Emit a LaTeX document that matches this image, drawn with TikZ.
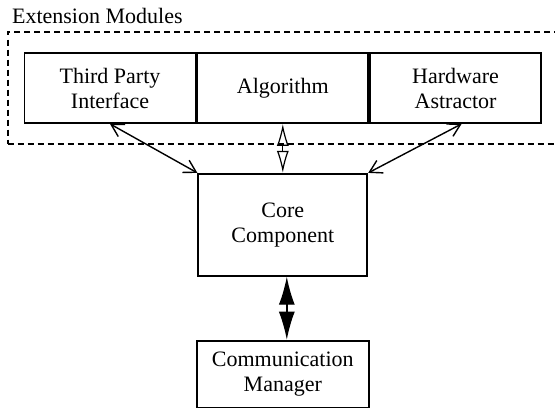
\documentclass[tikz,border=0pt]{standalone}
\usepackage{fontspec}
\setmainfont{Liberation Serif}
\usetikzlibrary{positioning,fit,arrows.meta}

\begin{document}
\begin{tikzpicture}[
        x=0.5pt, y=-0.5pt,
        font=\fontsize{11}{12.5}\selectfont,
        modulenode/.style={rectangle, draw, line width=0.9pt, minimum width=85.5pt, minimum height=35pt, inner sep=0pt, align=center},
        corenode/.style={rectangle, draw, line width=0.9pt, minimum width=84.5pt, minimum height=51pt, inner sep=0pt, align=center},
        commnode/.style={rectangle, draw, line width=0.9pt, minimum width=86pt, minimum height=33.5pt, inner sep=0pt, align=center},
        groupnode/.style={rectangle, draw, dash pattern=on 3pt off 2pt, line width=0.9pt, inner xsep=8pt, inner ysep=10pt},
        barbarrow/.style={line width=0.7pt, {Straight Barb[length=6pt,width=7pt]}-{Straight Barb[length=6pt,width=7pt]}},
        openarrow/.style={line width=0.6pt, {Latex[open,length=11pt,width=6pt]}-{Latex[open,length=11pt,width=6pt]}},
        fullarrow/.style={line width=0.7pt, {Latex[length=14pt,width=8pt]}-{Latex[length=14pt,width=8pt]}},
    ]
    \useasboundingbox (0,0) rectangle (555,407);

    %Nodes: extension modules
    \node[modulenode] (third)              at (110,88)         {Third Party\\Interface};
    \node[modulenode] (algorithm) [right=0pt of third]     {Algorithm};
    \node[modulenode] (hardware)  [right=0pt of algorithm] {Hardware\\Astractor};

    \node[groupnode, fit=(third)(hardware)] (modules) {};
    \node[anchor=base west, inner sep=0pt] (moduleslabel) at ([shift={(2.5pt,4pt)}]modules.north west) {Extension Modules};

    %Nodes: core and communication
    \node[corenode] (core) [below=24.5pt of algorithm] {Core\\Component};
    \node[commnode] (comm) [below=31.5pt of core]      {Communication\\Manager};

    %Arrows: connections between nodes
    \draw[barbarrow] (third.south)    -- (core.north west);
    \draw[openarrow] (algorithm.south) -- (core.north);
    \draw[barbarrow] ([xshift=3pt]hardware.south) -- (core.north east);
    \draw[fullarrow] ([xshift=2pt]core.south) -- ([xshift=2pt]comm.north);
\end{tikzpicture}
\end{document}
